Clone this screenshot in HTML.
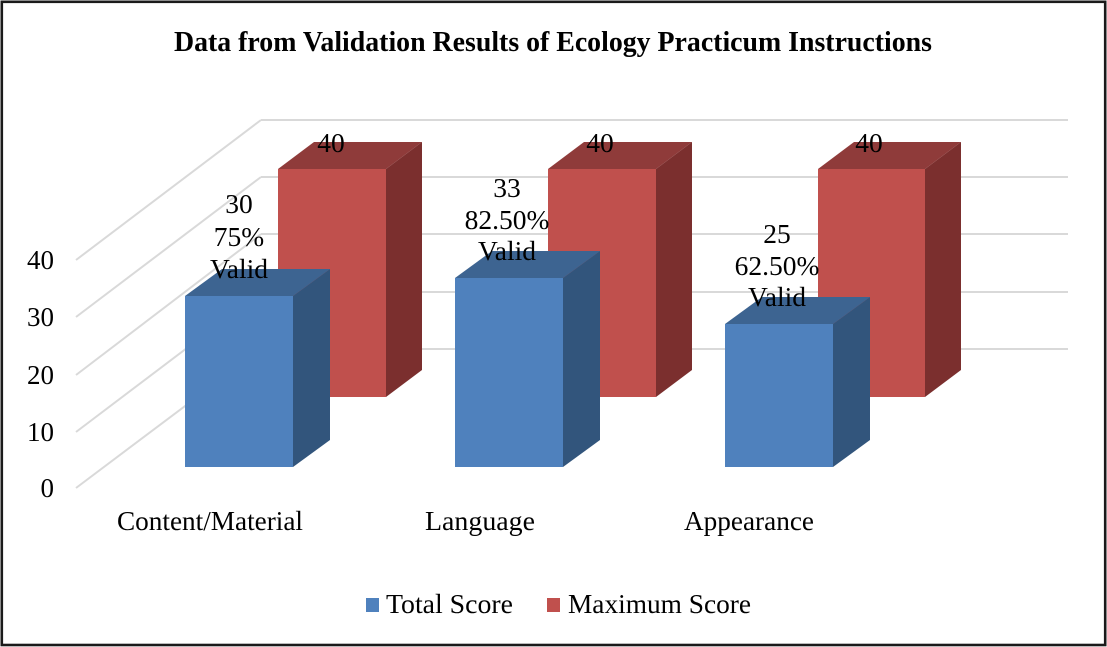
<!DOCTYPE html>
<html>
<head>
<meta charset="utf-8">
<style>
  html, body { margin: 0; padding: 0; background: #ffffff; }
  svg { display: block; }
  text { font-family: "Liberation Serif", "Times New Roman", serif; fill: #000; }
</style>
</head>
<body>
<svg width="1107" height="647" viewBox="0 0 1107 647" xmlns="http://www.w3.org/2000/svg">
  <rect x="0" y="0" width="1107" height="647" fill="#ffffff"/>
  <!-- outer frame -->
  <rect x="1.8" y="1.8" width="1103.4" height="643.2" fill="none" stroke="#1a1a1a" stroke-width="2.6"/>

  <!-- title -->
  <text x="174" y="51" font-size="28" font-weight="bold" textLength="758" lengthAdjust="spacingAndGlyphs">Data from Validation Results of Ecology Practicum Instructions</text>

  <!-- side wall gridlines -->
  <g stroke="#d9d9d9" stroke-width="2" fill="none">
    <line x1="76" y1="488" x2="261" y2="349"/>
    <line x1="76" y1="432" x2="261" y2="292"/>
    <line x1="76" y1="375" x2="261" y2="234"/>
    <line x1="76" y1="317" x2="261" y2="177"/>
    <line x1="76" y1="260" x2="261" y2="120"/>
    <!-- back wall gridlines -->
    <line x1="261" y1="349" x2="1068" y2="349"/>
    <line x1="261" y1="292" x2="1068" y2="292"/>
    <line x1="261" y1="234" x2="1068" y2="234"/>
    <line x1="261" y1="177" x2="1068" y2="177"/>
    <line x1="261" y1="120" x2="1068" y2="120"/>
  </g>

  <!-- y axis labels -->
  <g font-size="27" text-anchor="end">
    <text x="54" y="497">0</text>
    <text x="54" y="441">10</text>
    <text x="54" y="384">20</text>
    <text x="54" y="326">30</text>
    <text x="54" y="269">40</text>
  </g>

  <!-- red bars (back row) -->
  <g>
    <polygon points="386,169 422,142 422,370 386,397" fill="#7b2f2e"/>
    <polygon points="278,169 314,142 422,142 386,169" fill="#8f3b3a"/>
    <rect x="278" y="169" width="108" height="228" fill="#c0504d"/>

    <polygon points="656,169 692,142 692,370 656,397" fill="#7b2f2e"/>
    <polygon points="548,169 584,142 692,142 656,169" fill="#8f3b3a"/>
    <rect x="548" y="169" width="108" height="228" fill="#c0504d"/>

    <polygon points="925,169 961,142 961,370 925,397" fill="#7b2f2e"/>
    <polygon points="818,169 854,142 961,142 925,169" fill="#8f3b3a"/>
    <rect x="818" y="169" width="107" height="228" fill="#c0504d"/>
  </g>

  <!-- blue bars (front row) -->
  <g>
    <polygon points="293,296 330,269 330,440 293,467" fill="#32557c"/>
    <polygon points="185,296 222,269 330,269 293,296" fill="#3d6491"/>
    <rect x="185" y="296" width="108" height="171" fill="#4f81bd"/>

    <polygon points="563,278 600,251 600,440 563,467" fill="#32557c"/>
    <polygon points="455,278 492,251 600,251 563,278" fill="#3d6491"/>
    <rect x="455" y="278" width="108" height="189" fill="#4f81bd"/>

    <polygon points="833,324 870,297 870,440 833,467" fill="#32557c"/>
    <polygon points="725,324 762,297 870,297 833,324" fill="#3d6491"/>
    <rect x="725" y="324" width="108" height="143" fill="#4f81bd"/>
  </g>

  <!-- data labels -->
  <g font-size="27.5" text-anchor="middle">
    <text x="331" y="152">40</text>
    <text x="600" y="152">40</text>
    <text x="869" y="152">40</text>

    <text x="239" y="213">30</text>
    <text x="239" y="246">75%</text>
    <text x="239" y="278">Valid</text>

    <text x="507" y="197">33</text>
    <text x="507" y="229">82.50%</text>
    <text x="507" y="260">Valid</text>

    <text x="777" y="243">25</text>
    <text x="777" y="275">62.50%</text>
    <text x="777" y="306">Valid</text>
  </g>

  <!-- category labels -->
  <g font-size="27.5">
    <text x="117" y="530" textLength="186" lengthAdjust="spacingAndGlyphs">Content/Material</text>
    <text x="425" y="530" textLength="110" lengthAdjust="spacingAndGlyphs">Language</text>
    <text x="684" y="530" textLength="130" lengthAdjust="spacingAndGlyphs">Appearance</text>
  </g>

  <!-- legend -->
  <rect x="366" y="598" width="13" height="14" fill="#4f81bd"/>
  <text x="386" y="613" font-size="27.5" textLength="127" lengthAdjust="spacingAndGlyphs">Total Score</text>
  <rect x="547" y="598" width="13" height="14" fill="#c0504d"/>
  <text x="568" y="613" font-size="27.5" textLength="183" lengthAdjust="spacingAndGlyphs">Maximum Score</text>
</svg>
</body>
</html>
